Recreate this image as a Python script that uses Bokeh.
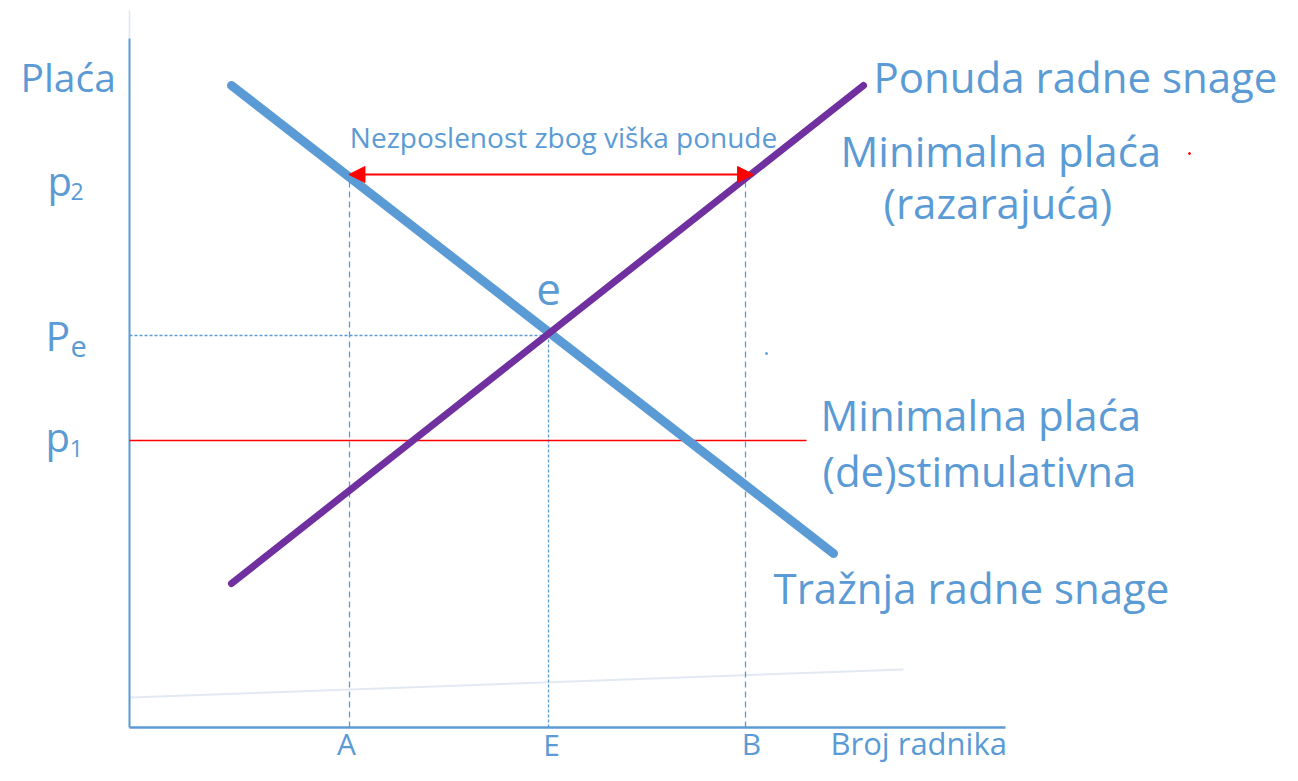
from bokeh.plotting import figure
from bokeh.models import Range1d, Arrow, NormalHead
from bokeh.core.properties import value
from bokeh.embed import file_html
from bokeh.resources import INLINE

# ---------------- data (chart units: quantity on x, wage on y) ----------------
demand_q = [102, 704]          # Tražnja radne snage
demand_w = [642, 174]
supply_q = [102, 734]          # Ponuda radne snage
supply_w = [144, 642]
wage_levels = {"p2": 553, "pe": 392, "p1": 287}
qty_levels = {"A": 220, "E": 419, "B": 616}
axis_x_end = 876
axis_y_end = 689
p1_end = 677
faint_q = [0, 774]
faint_w = [30, 58]

BLUE = "#5B9BD5"
PURPLE = "#7030A0"
RED = "#FF0000"
FONT = value("Open Sans")

p = figure(width=1282, height=765, output_backend="svg", toolbar_location=None,
           x_range=Range1d(-129, 1153), y_range=Range1d(-38, 727),
           x_axis_type=None, y_axis_type=None, min_border=0,
           outline_line_color=None, background_fill_color="white",
           border_fill_color="white")
p.xgrid.visible = False
p.ygrid.visible = False

# faint line near bottom
p.line(faint_q, faint_w, line_color="#E3E9F3", line_width=2)
# faint top extension of y axis
p.line([0, 0], [axis_y_end, axis_y_end + 28], line_color="#DCE6F2", line_width=1.5)

# axes
p.line([0, 0], [0, axis_y_end], line_color=BLUE, line_width=2)
p.line([0, axis_x_end], [0, 0], line_color=BLUE, line_width=2.5)

# dashed guide lines at A and B
for k in ("A", "B"):
    q = qty_levels[k]
    p.line([q, q], [0, wage_levels["p2"] - 4], line_color=BLUE, line_width=1.3, line_dash="6 4")

# dotted equilibrium guides
pe = wage_levels["pe"]
qe = qty_levels["E"]
p.line([0, qe], [pe, pe], line_color=BLUE, line_width=1.3, line_dash="3 2")
p.line([qe, qe], [0, pe], line_color=BLUE, line_width=1.3, line_dash="3 2")

# minimum wage p1 (red)
p.line([0, p1_end], [wage_levels["p1"], wage_levels["p1"]], line_color=RED, line_width=1.6)

# demand and supply curves
p.line(demand_q, demand_w, line_color=BLUE, line_width=9, line_cap="round")
p.line(supply_q, supply_w, line_color=PURPLE, line_width=7, line_cap="round")

# double-headed unemployment arrow at p2
p2 = wage_levels["p2"]
q_left = demand_q[0] + (demand_w[0] - p2) / (demand_w[0] - demand_w[1]) * (demand_q[1] - demand_q[0])
q_right = supply_q[0] + (p2 - supply_w[0]) / (supply_w[1] - supply_w[0]) * (supply_q[1] - supply_q[0])
p.add_layout(Arrow(start=NormalHead(size=16, fill_color=RED, line_color=RED),
                   end=NormalHead(size=16, fill_color=RED, line_color=RED),
                   x_start=q_left + 3, y_start=p2, x_end=q_right + 3, y_end=p2,
                   line_color=RED, line_width=2))

# small stray dots
p.scatter([1060], [574], size=2, color=RED)
p.scatter([637], [374], size=2, color=BLUE)

def txt(x, y, s, size, align="left", color=BLUE):
    # y is the visible baseline; compensate the renderer's baseline offset
    p.text(x=[x], y=[y + 0.31 * size], text=[s], text_font=FONT,
           text_font_size=f"{size}px", text_color=color, text_align=align,
           text_baseline="alphabetic")

# y-axis labels
txt(-109, 639, "Plaća", 39)
txt(-82, 535, "p", 40)
txt(-59, 529, "2", 23)
txt(-84, 380, "P", 41)
txt(-59, 372, "e", 29)
txt(-84, 279, "p", 40)
txt(-60, 272, "1", 24)

# x-axis labels (kept inside the canvas)
txt(qty_levels["A"] - 3, -25, "A", 30, "center")
txt(qty_levels["E"] + 3, -26, "E", 30, "center")
txt(qty_levels["B"] + 6, -25, "B", 30, "center")
txt(701, -25, "Broj radnika", 31)

# annotations
txt(434, 582, "Nezposlenost zbog viška ponude", 28, "center")
txt(qe, 424, "e", 44, "center")
txt(744, 638, "Ponuda radne snage", 42)
txt(711, 564, "Minimalna plaća", 42)
txt(754, 512, "(razarajuća)", 42)
txt(691, 300, "Minimalna plaća", 42)
txt(693, 244, "(de)stimulativna", 42)
txt(644, 127, "Tražnja radne snage", 42)

open("out.html", "w").write(file_html(p, INLINE))
